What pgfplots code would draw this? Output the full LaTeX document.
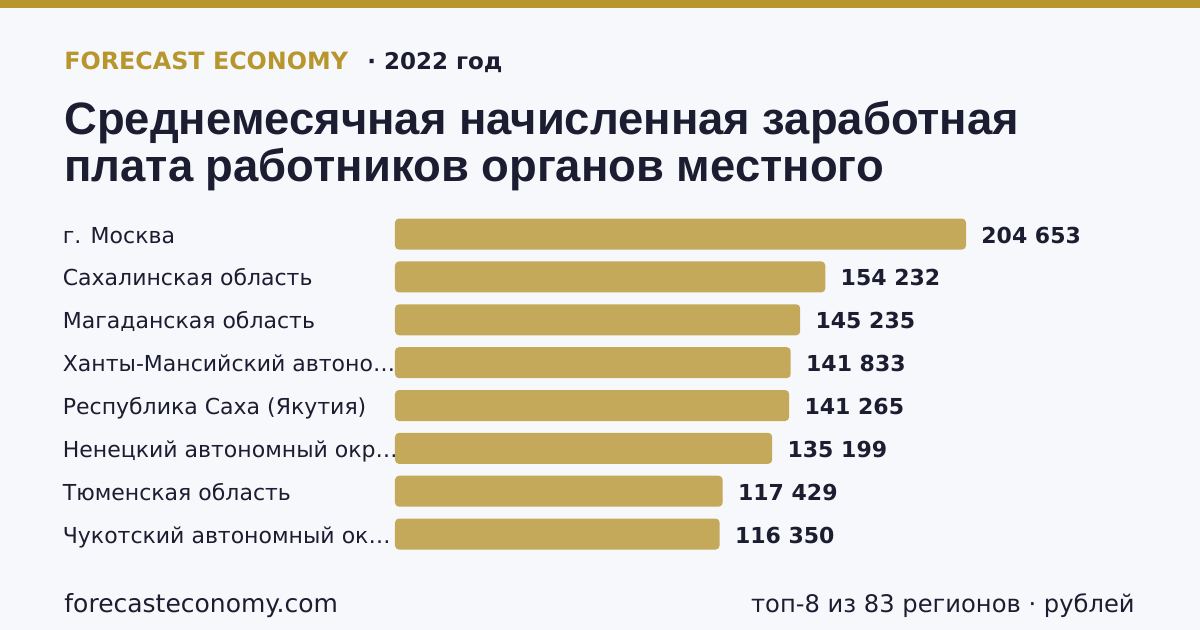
\documentclass[border=0pt]{standalone}
\usepackage{fontspec}
\setmainfont{DejaVu Sans}
\newfontfamily\titlefont{Liberation Sans}
\usepackage{pgfplots}
\pgfplotsset{compat=1.18}
\definecolor{bgc}{HTML}{F7F8FC}
\definecolor{goldtop}{HTML}{B8962E}
\definecolor{barc}{HTML}{C4A95B}
\definecolor{ink}{HTML}{1D1D32}
\begin{document}
\begin{tikzpicture}
\fill[bgc] (0,0) rectangle (600pt,-315pt);
\fill[goldtop] (0,0) rectangle (600pt,-4pt);
\useasboundingbox (0,0) rectangle (600pt,-315pt);
\node[anchor=base west, inner sep=0, font=\fontsize{11.9pt}{14pt}\selectfont\bfseries, text=goldtop] at (32pt,-35pt) {FORECAST ECONOMY};
\node[anchor=base west, inner sep=0, font=\fontsize{11.5pt}{14pt}\selectfont\bfseries, text=ink] at (183.5pt,-35pt) {· 2022 год};
\node[anchor=base west, inner sep=0, font=\titlefont\fontsize{22.7pt}{28pt}\selectfont\bfseries, text=ink] at (32pt,-67.5pt) {Среднемесячная начисленная заработная};
\node[anchor=base west, inner sep=0, font=\titlefont\fontsize{22.7pt}{28pt}\selectfont\bfseries, text=ink] at (32pt,-91pt) {плата работников органов местного};
\node[anchor=base west, inner sep=0, font=\fontsize{12.5pt}{14pt}\selectfont, text=ink] at (32pt,-306pt) {forecasteconomy.com};
\node[anchor=base east, inner sep=0, font=\fontsize{12.1pt}{14pt}\selectfont, text=ink] at (567.5pt,-306pt) {топ-8 из 83 регионов · рублей};
\begin{axis}[
  at={(197.5pt,-277.75pt)}, anchor=south west,
  width=285.5pt, height=171.43pt, scale only axis,
  xbar, xmin=0, xmax=204653, ymin=-0.5, ymax=7.5, y dir=reverse,
  bar width=15.5pt, clip=false,
  axis line style={draw=none}, tick style={draw=none},
  xtick=\empty, ytick={0,1,2,3,4,5,6,7},
  yticklabels={г. Москва, Сахалинская область, Магаданская область, {Ханты-Мансийский автоно…}, Республика Саха (Якутия), {Ненецкий автономный окр…}, Тюменская область, {Чукотский автономный ок…}},
  yticklabel style={anchor=base west, inner sep=0pt, xshift=-162pt, yshift=-4.5pt, font=\fontsize{11pt}{13pt}\selectfont, text=ink},
  nodes near coords,
  nodes near coords style={anchor=base west, inner sep=0pt, xshift=7.5pt, yshift=-4.5pt, font=\fontsize{11pt}{13pt}\selectfont\bfseries, text=ink,
    /pgf/number format/.cd, fixed, precision=0, 1000 sep={\ }, assume math mode=true},
]
\addplot[fill=barc, draw=none, rounded corners=2pt] coordinates {
(204653,0) (154232,1) (145235,2) (141833,3) (141265,4) (135199,5) (117429,6) (116350,7)};
\end{axis}
\end{tikzpicture}
\end{document}
